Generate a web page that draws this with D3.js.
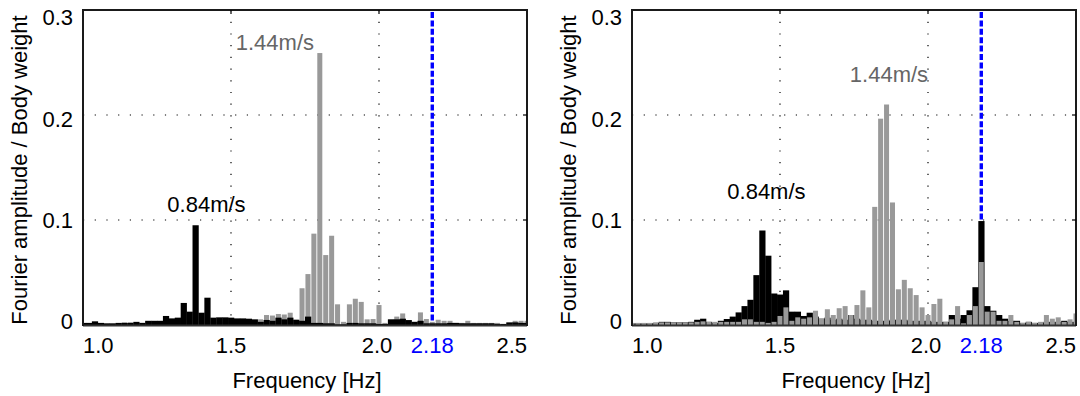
<!DOCTYPE html>
<meta charset="utf-8">
<style>
    body { margin: 0; background: #fff; }
    svg { display: block; background: #fff; font-family: "Liberation Sans", Arial, sans-serif; }
    .frame { fill: none; stroke: #1a1a1a; stroke-width: 2; }
    .grid { stroke: #000; stroke-width: 1.2; stroke-dasharray: 1.2, 10.5; }
    .tick-label { font-size: 22px; fill: #000; }
    .axis-title { font-size: 22px; fill: #000; }
    .note { font-size: 22px; }
</style>

<body>
    <script src="https://cdn.jsdelivr.net/npm/d3@7"></script>
    <script>
        // bin centres [Hz]
        var freqs = [1.00, 1.02, 1.04, 1.06, 1.08, 1.10, 1.12, 1.14, 1.16, 1.18,
                     1.20, 1.22, 1.24, 1.26, 1.28, 1.30, 1.32, 1.34, 1.36, 1.38,
                     1.40, 1.42, 1.44, 1.46, 1.48, 1.50, 1.52, 1.54, 1.56, 1.58,
                     1.60, 1.62, 1.64, 1.66, 1.68, 1.70, 1.72, 1.74, 1.76, 1.78,
                     1.80, 1.82, 1.84, 1.86, 1.88, 1.90, 1.92, 1.94, 1.96, 1.98,
                     2.00, 2.02, 2.04, 2.06, 2.08, 2.10, 2.12, 2.14, 2.16, 2.18,
                     2.20, 2.22, 2.24, 2.26, 2.28, 2.30, 2.32, 2.34, 2.36, 2.38,
                     2.40, 2.42, 2.44, 2.46, 2.48, 2.50];

        // left panel, 0.84 m/s (black) and 1.44 m/s (grey)
        var leftSlow = [0.002, 0.002, 0.0035, 0.002, 0.0016, 0.0016, 0.002, 0.002, 0.002, 0.003,
                        0.002, 0.004, 0.004, 0.004, 0.0086, 0.0063, 0.007, 0.021, 0.0127, 0.095,
                        0.0117, 0.026, 0.007, 0.0073, 0.0073, 0.007, 0.0063, 0.0063, 0.006, 0.0054,
                        0.003, 0.0048, 0.004, 0.007, 0.0054, 0.007, 0.005, 0.004, 0.008, 0.002,
                        0.002, 0.0016, 0.0016, 0.0006, 0.0006, 0.002, 0.002, 0.0016, 0.0016, 0.0016,
                        0.001, 0.001, 0.0054, 0.0054, 0.006, 0.0047, 0.003, 0.004, 0.0016, 0.0016,
                        0.0016, 0.0016, 0.002, 0.002, 0.0016, 0.0016, 0.0016, 0.0016, 0.0016, 0.0016,
                        0.001, 0.001, 0.0025, 0.0025, 0.002, 0.002];
        var leftFast = [0.001, 0.001, 0.001, 0.001, 0.001, 0.001, 0.001, 0.0025, 0.0025, 0.002,
                        0.002, 0.003, 0.003, 0.003, 0.003, 0.003, 0.003, 0.003, 0.003, 0.003,
                        0.003, 0.003, 0.003, 0.003, 0.003, 0.003, 0.003, 0.003, 0.003, 0.004,
                        0.0054, 0.0095, 0.009, 0.0105, 0.01, 0.0117, 0.005, 0.035, 0.0485, 0.087,
                        0.259, 0.0666, 0.085, 0.0197, 0.003, 0.0197, 0.025, 0.022, 0.0054, 0.0057,
                        0.019, 0.002, 0.005, 0.008, 0.011, 0.004, 0.003, 0.012, 0.0057, 0.003,
                        0.005, 0.004, 0.004, 0.002, 0.002, 0.004, 0.002, 0.002, 0.002, 0.002,
                        0.002, 0.001, 0.002, 0.004, 0.004, 0.004];

        // right panel
        var rightSlow = [0.0015, 0.0015, 0.0015, 0.0015, 0.002, 0.003, 0.003, 0.0025, 0.0025, 0.0025,
                         0.003, 0.005, 0.006, 0.003, 0.002, 0.004, 0.0057, 0.008, 0.012, 0.018,
                         0.024, 0.0475, 0.090, 0.066, 0.030, 0.029, 0.033, 0.0127, 0.0127, 0.0086,
                         0.0117, 0.008, 0.006, 0.007, 0.005, 0.006, 0.005, 0.0095, 0.006, 0.005,
                         0.005, 0.004, 0.004, 0.004, 0.005, 0.005, 0.005, 0.004, 0.004, 0.004,
                         0.004, 0.003, 0.003, 0.003, 0.0095, 0.006, 0.0095, 0.014, 0.036, 0.099,
                         0.018, 0.0136, 0.0095, 0.006, 0.004, 0.004, 0.002, 0.003, 0.002, 0.002,
                         0.003, 0.003, 0.003, 0.004, 0.003, 0.003];
        var rightFast = [0.002, 0.002, 0.002, 0.002, 0.0025, 0.0025, 0.0025, 0.0025, 0.0025, 0.0025,
                         0.0025, 0.003, 0.0035, 0.003, 0.003, 0.003, 0.003, 0.003, 0.003, 0.0054,
                         0.0054, 0.003, 0.003, 0.002, 0.003, 0.0086, 0.0168, 0.004, 0.0073, 0.006,
                         0.0073, 0.0136, 0.006, 0.015, 0.0095, 0.016, 0.018, 0.0095, 0.019, 0.033,
                         0.0168, 0.1125, 0.1965, 0.210, 0.1167, 0.034, 0.043, 0.035, 0.0285, 0.0168,
                         0.0095, 0.020, 0.025, 0.003, 0.0054, 0.018, 0.0016, 0.0095, 0.018, 0.060,
                         0.0127, 0.0127, 0.004, 0.004, 0.0095, 0.003, 0.002, 0.003, 0.002, 0.003,
                         0.0095, 0.006, 0.0073, 0.003, 0.0054, 0.011];

        var xTicks = [1.0, 1.5, 2.0, 2.18, 2.5];
        var yTicks = [0, 0.1, 0.2, 0.3];
        var markFreq = 2.18;

        var width = 1080,
            height = 396;
        var svg = d3.select('body').append('svg')
            .attr('width', width)
            .attr('height', height);

        function drawPanel(p) {
            var x = d3.scaleLinear().domain([1.0, 2.5]).range([p.left, p.right]);
            var y = d3.scaleLinear().domain([0, 0.3]).range([325, 10]);
            // tick labels sit slightly off the ticks in the original
            var yLab = y.copy().range([321.7, 17.5]);
            var bw = x(1.02) - x(1.0);
            var g = svg.append('g');

            var clipId = 'clip' + p.id;
            svg.append('clipPath').attr('id', clipId)
                .append('rect')
                .attr('x', p.left).attr('y', 10)
                .attr('width', p.right - p.left).attr('height', 315);

            // dotted grid
            g.selectAll('.gx').data([1.5, 2.0]).enter().append('line')
                .attr('class', 'grid')
                .attr('x1', function (d) { return x(d); })
                .attr('x2', function (d) { return x(d); })
                .attr('y1', y(0.3)).attr('y2', y(0));
            g.selectAll('.gy').data([0.1, 0.2]).enter().append('line')
                .attr('class', 'grid')
                .attr('x1', p.left).attr('x2', p.right)
                .attr('y1', function (d) { return y(d); })
                .attr('y2', function (d) { return y(d); });

            // natural frequency marker
            g.append('line')
                .attr('x1', x(markFreq)).attr('x2', x(markFreq))
                .attr('y1', y(0.3) + 2).attr('y2', y(0))
                .attr('stroke', '#0000ff')
                .attr('stroke-width', 3.4)
                .attr('stroke-dasharray', '6,2.4');

            var bars = g.append('g').attr('clip-path', 'url(#' + clipId + ')');

            function blackBars() {
                bars.append('g').selectAll('rect').data(p.slow).enter().append('rect')
                    .attr('x', function (d, i) { return x(freqs[i]) - bw / 2; })
                    .attr('width', bw + 0.3)
                    .attr('y', function (d) { return y(d); })
                    .attr('height', function (d) { return y(0) - y(d); })
                    .attr('fill', '#000');
            }
            function greyBars() {
                bars.append('g').selectAll('rect').data(p.fast).enter().append('rect')
                    .attr('x', function (d, i) { return x(freqs[i]) - bw / 2 + 0.45; })
                    .attr('width', bw - 0.9)
                    .attr('y', function (d) { return y(d); })
                    .attr('height', function (d) { return y(0) - y(d); })
                    .attr('fill', '#999');
            }
            if (p.greyOnTop) { blackBars(); greyBars(); }
            else { greyBars(); blackBars(); }

            // frame
            g.append('line')
                .attr('x1', p.left).attr('x2', p.right)
                .attr('y1', y(0) + 0.5).attr('y2', y(0) + 0.5)
                .attr('stroke', '#333').attr('stroke-width', 2);
            g.append('path')
                .attr('class', 'frame')
                .attr('d', 'M' + p.left + ',' + (y(0) + 1) + 'V' + y(0.3) + 'H' + p.right + 'V' + (y(0) + 1));

            // small inward ticks
            g.selectAll('.ty').data([0.1, 0.2]).enter().append('line')
                .attr('x1', p.right - 4).attr('x2', p.right)
                .attr('y1', function (d) { return y(d); })
                .attr('y2', function (d) { return y(d); })
                .attr('stroke', '#000').attr('stroke-width', 1.2);
            g.selectAll('.tx').data([1.5, 2.0]).enter().append('line')
                .attr('x1', function (d) { return x(d); })
                .attr('x2', function (d) { return x(d); })
                .attr('y1', y(0.3)).attr('y2', y(0.3) + 4)
                .attr('stroke', '#000').attr('stroke-width', 1.2);

            // y tick labels
            g.selectAll('.yl').data(yTicks).enter().append('text')
                .attr('class', 'tick-label')
                .attr('x', p.left - 10)
                .attr('y', function (d) { return yLab(d); })
                .attr('dy', '0.35em')
                .attr('text-anchor', 'end')
                .text(function (d) { return d === 0 ? '0' : d3.format('.1f')(d); });

            // x tick labels
            g.selectAll('.xl').data(xTicks).enter().append('text')
                .attr('class', 'tick-label')
                .attr('x', function (d) { return x(d) + (d === 2.0 ? -2 : 0); })
                .attr('y', 353)
                .attr('text-anchor', function (d) {
                    return d === 1.0 ? 'start' : (d === 2.5 ? 'end' : 'middle');
                })
                .style('fill', function (d) { return d === markFreq ? '#0000ff' : '#000'; })
                .text(function (d) { return d === markFreq ? '2.18' : d3.format('.1f')(d); });

            g.append('text')
                .attr('class', 'axis-title')
                .attr('x', (p.left + p.right) / 2 + 2)
                .attr('y', 388)
                .attr('text-anchor', 'middle')
                .text('Frequency [Hz]');

            g.append('text')
                .attr('class', 'axis-title')
                .attr('transform', 'translate(' + (p.left - 56) + ',' + 170 + ') rotate(-90)')
                .attr('text-anchor', 'middle')
                .text('Fourier amplitude / Body weight');

            // speed labels
            p.notes.forEach(function (n) {
                g.append('text')
                    .attr('class', 'note')
                    .attr('x', x(n.f))
                    .attr('y', y(n.v))
                    .attr('fill', n.color)
                    .text(n.label);
            });
        }

        drawPanel({
            id: 'L', left: 83, right: 527,
            slow: leftSlow, fast: leftFast, greyOnTop: false,
            notes: [
                { label: '0.84m/s', f: 1.285, v: 0.1076, color: '#000' },
                { label: '1.44m/s', f: 1.516, v: 0.262, color: '#666' }
            ]
        });
        drawPanel({
            id: 'R', left: 632, right: 1076,
            slow: rightSlow, fast: rightFast, greyOnTop: true,
            notes: [
                { label: '0.84m/s', f: 1.322, v: 0.1197, color: '#000' },
                { label: '1.44m/s', f: 1.736, v: 0.2317, color: '#666' }
            ]
        });
    </script>
</body>
